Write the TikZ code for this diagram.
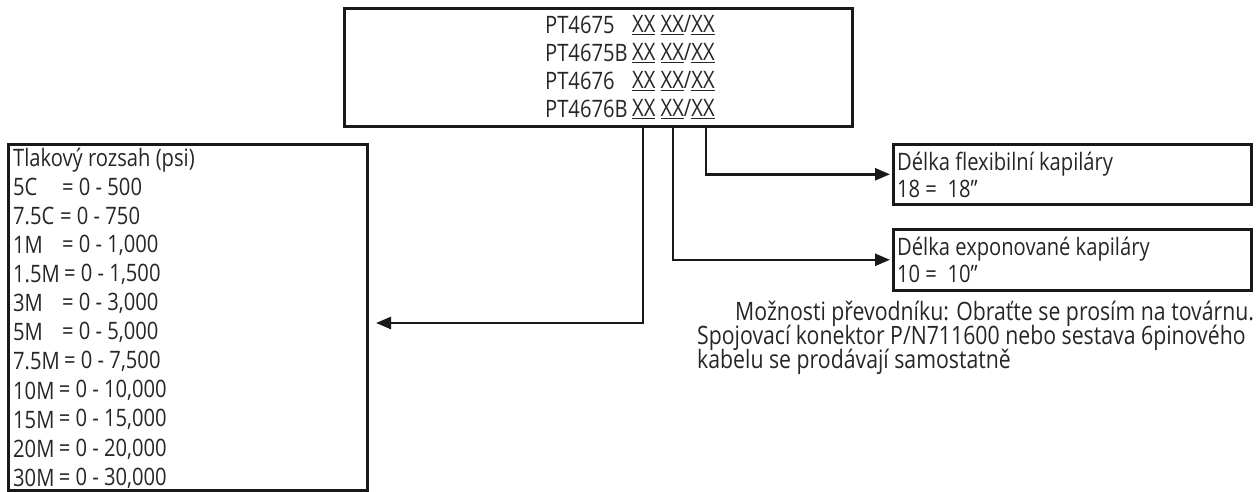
\documentclass[tikz,border=0pt]{standalone}
\usepackage{fontspec}
\setmainfont{Open Sans}[FakeStretch=0.84]
\usetikzlibrary{arrows.meta,calc}
\tikzset{
  box/.style={draw=black!90, line width=2.6pt, rectangle, inner sep=0pt, anchor=north west},
  txt/.style={anchor=west, inner sep=0pt, font=\fontsize{24}{28}\selectfont, text=black!85},
  note/.style={txt, font=\fontsize{25.3}{28}\selectfont},
  conn/.style={draw=black!90, line width=2.5pt, -{Triangle[length=15pt,width=12pt]}},
}
\begin{document}
\begin{tikzpicture}[x=1pt,y=-1pt]
\useasboundingbox (0,0) rectangle (1256,492);
% boxes
\node[box, minimum width=508pt, minimum height=118pt] (top) at (343,7) {};
\node[box, minimum width=359pt, minimum height=346pt] (range) at (7,143) {};
\node[box, minimum width=358pt, minimum height=60pt] (flex) at (892,143) {};
\node[box, minimum width=358pt, minimum height=61pt] (expo) at (892,228) {};
% top box text
\foreach \n/\y/\l in {a/25/PT4675, b/53/PT4675B, c/81/PT4676, d/109/PT4676B}{
  \node[txt] (pt\n) at (545,\y) {\l};
  \node[txt] (xx\n) at (632,\y) {\underline{XX} \underline{XX}/\underline{XX}};
}
% left box text
\node[txt] (rt) at (13,160) {Tlakový rozsah (psi)};
\foreach \i/\k/\e/\v in {0/5C/62/500, 1/7.5C/60/750, 2/1M/62/{1,000}, 3/1.5M/56/{1,500}, 4/3M/62/{3,000}, 5/5M/62/{5,000}, 6/7.5M/59/{7,500}, 7/10M/55/{10,000}, 8/15M/55/{15,000}, 9/20M/55/{20,000}, 10/30M/55/{30,000}}{
  \node[txt] (rk\i) at (13,{187+29.1*\i}) {\k};
  \path let \p1=(rk\i.east) in node[txt] (rv\i) at ({max(\e,\x1+4)},{187+29.1*\i}) {= 0 - \v};
}
% right boxes text
\node[txt] (ft) at (897,164) {Délka flexibilní kapiláry};
\node[txt] (fv) at (897,189) {18 =\ \ 18"};
\node[txt] (et) at (897,249) {Délka exponované kapiláry};
\node[txt] (ev) at (897,274) {10 =\ \ 10"};
% note
\node[note] (n1) at (735,314) {Možnosti převodníku: Obraťte se prosím na továrnu.};
\node[note] (n2) at (697,338) {Spojovací konektor P/N711600 nebo sestava 6pinového};
\node[note] (n3) at (697,362) {kabelu se prodávají samostatně};
% connectors
\coordinate (d1) at (643,125);
\coordinate (d2) at (673,125);
\coordinate (d3) at (706,125);
\coordinate (rin) at (376,323);
\draw[conn] (d1) |- (rin);
\draw[conn, shorten >=2pt] (d2) |- (expo.west);
\draw[conn, shorten >=2pt] (d3) |- (flex.west);
\end{tikzpicture}
\end{document}
